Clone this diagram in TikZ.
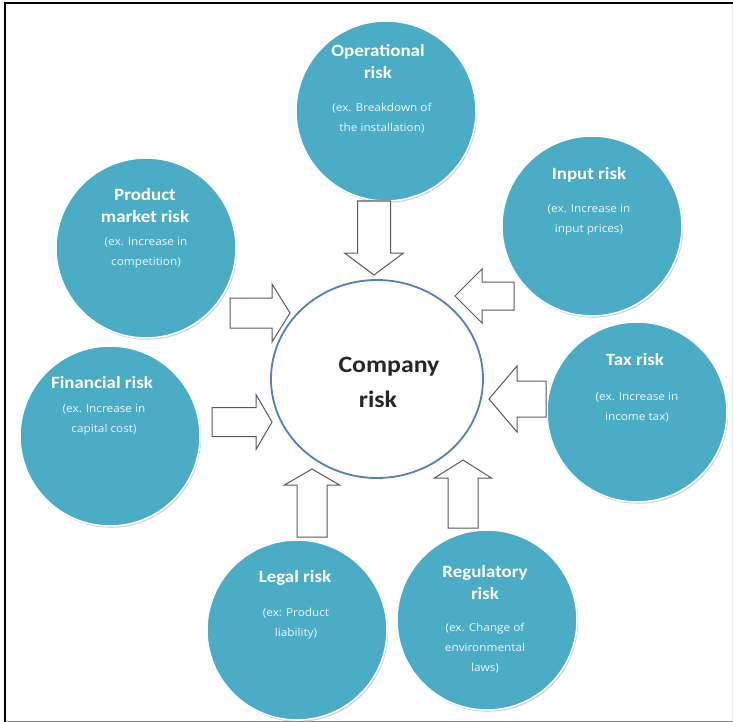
\documentclass[tikz,border=0pt]{standalone}
\usepackage{fontspec}
\setmainfont[FakeStretch=1.1]{Carlito}
\newfontfamily\notefont[FakeStretch=1.08]{Open Sans}
\usetikzlibrary{shapes.geometric,shadows}
\definecolor{riskteal}{HTML}{4BACC6}
\definecolor{coreblue}{HTML}{4F81BD}
\definecolor{arrowgray}{HTML}{595959}
\begin{document}
\begin{tikzpicture}[x=1pt,y=-1pt,
  riskcircle/.style={circle, fill=riskteal, draw=white, line width=1.5pt,
    minimum size=180pt, inner sep=0pt,
    drop shadow={opacity=0.35, shadow xshift=1.2pt, shadow yshift=-1.8pt}},
  core/.style={ellipse, draw=coreblue, line width=1.8pt, fill=white,
    minimum width=212pt, minimum height=198pt, inner sep=0pt},
  coretext/.style={text=black!85, font=\fontsize{23.5}{26}\selectfont\bfseries, inner sep=0pt},
  title/.style={text=white, font=\fontsize{17.2}{22}\selectfont\bfseries, align=center, inner sep=0pt},
  note/.style={text=white!90!riskteal, font=\notefont\fontsize{10.9}{20}\selectfont, align=center, inner sep=0pt},
  arrowline/.style={draw=arrowgray, fill=white, line width=1pt, line join=miter},
  % block arrow: length / shaft half-width / head half-width / head length
  pics/blockarrow/.style args={#1/#2/#3/#4}{code={
    \draw[arrowline] (0,-#2) -- (#1-#4,-#2) -- (#1-#4,-#3) -- (#1,0)
      -- (#1-#4,#3) -- (#1-#4,#2) -- (0,#2) -- cycle;}}
]
\useasboundingbox (0,0) rectangle (733,722);
\fill[white] (0,0) rectangle (733,722);

% frame
\draw[black!45, line width=0.8pt] (733,721) -- (5,721);
\draw[black!12, line width=0.8pt] (732,4) -- (732,721);
\draw[black, line width=2pt] (5,722) -- (5,3.5) -- (733,3.5);

% surrounding risks
\node[riskcircle] (op)  at (386,111) {};
\node[riskcircle] (pm)  at (146,248) {};
\node[riskcircle] (fin) at (110,436) {};
\node[riskcircle] (inp) at (592,226) {};
\node[riskcircle] (tax) at (637,412) {};
\node[riskcircle] (leg) at (297,630) {};
\node[riskcircle] (reg) at (487,620) {};

% company risk in the middle
\node[core] (co) at (377,379) {};
\node[coretext] (coA) at (389,367) {Company};
\node[coretext] (coB) at (378,399) {risk};

% texts
\node[title] (opT)  at (378,61.5) {Operational\\risk};
\node[note]  (opN)  at (382,118) {(ex. Breakdown of\\the installation)};
\node[title] (pmT)  at (145,205.5) {Product\\market risk};
\node[note]  (pmN)  at (146,252.5) {(ex. Increase in\\competition)};
\node[title] (finT) at (102,383) {Financial risk};
\node[note]  (finN) at (104,420) {(ex. Increase in\\capital cost)};
\node[title] (inpT) at (589,175) {Input risk};
\node[note]  (inpN) at (589,220) {(ex. Increase in\\input prices)};
\node[title] (taxT) at (635,360) {Tax risk};
\node[note]  (taxN) at (637,407) {(ex. Increase in\\income tax)};
\node[title] (legT) at (295,578) {Legal risk};
\node[note]  (legN) at (296,624) {(ex: Product\\liability)};
\node[title] (regT) at (485,582.5) {Regulatory\\risk};
\node[note]  (regN) at (485,648) {(ex. Change of\\environmental\\laws)};

% block arrows pointing at the company
\coordinate (aOp)  at (374,201);
\coordinate (aPm)  at (230,313);
\coordinate (aFin) at (212,422);
\coordinate (aInp) at (514,296);
\coordinate (aTax) at (546,399);
\coordinate (aLeg) at (312,537);
\coordinate (aReg) at (463,528);
\pic[rotate=-90] at (aOp)  {blockarrow={74/16.5/29.5/22}};
\pic            at (aPm)  {blockarrow={60/15/29/18}};
\pic            at (aFin) {blockarrow={60/14.5/27.5/16}};
\pic[rotate=180] at (aInp) {blockarrow={59/14/27/27}};
\pic[rotate=180] at (aTax) {blockarrow={57/18/33/28}};
\pic[rotate=90]  at (aLeg) {blockarrow={68/15/27.5/16}};
\pic[rotate=90]  at (aReg) {blockarrow={68/15/28.5/18}};
\end{tikzpicture}
\end{document}
